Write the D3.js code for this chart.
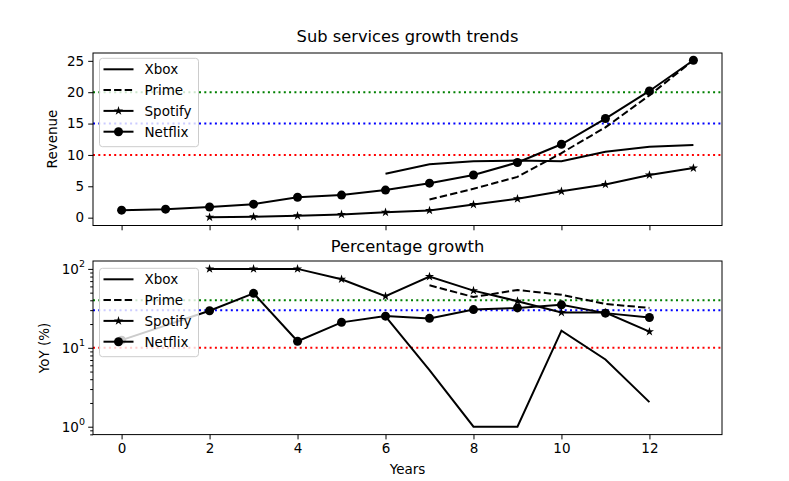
<!DOCTYPE html>
<html>
<head>
<meta charset="utf-8">
<script src="https://cdn.jsdelivr.net/npm/d3@7/dist/d3.min.js"></script>
<style>
  body { margin: 0; background: #fff; }
  text { font-family: "DejaVu Sans", sans-serif; fill: #000; }
</style>
</head>
<body>
<svg class="chart" width="789" height="481"></svg>
<script>
// revenue series (top panel)
var xboxYears = [6, 7, 8, 9, 10, 11, 12, 13];
var xbox = [7.0, 8.5, 9.0, 9.1, 9.0, 10.5, 11.3, 11.6];
var primeYears = [7, 8, 9, 10, 11, 12, 13];
var prime = [2.9, 4.6, 6.5, 10.3, 14.4, 19.5, 25.1];
var spotifyYears = [2, 3, 4, 5, 6, 7, 8, 9, 10, 11, 12, 13];
var spotify = [0.06, 0.14, 0.3, 0.52, 0.85, 1.15, 2.1, 3.0, 4.2, 5.3, 6.8, 7.9];
var netflixYears = [0, 1, 2, 3, 4, 5, 6, 7, 8, 9, 10, 11, 12, 13];
var netflix = [1.2, 1.35, 1.7, 2.15, 3.25, 3.6, 4.4, 5.5, 6.8, 8.8, 11.7, 15.8, 20.2, 25.1];

// YoY growth series (bottom panel)
var xboxYoYYears = [6, 7, 8, 9, 10, 11, 12];
var xboxYoY = [25, 5.2, 1, 1, 16.5, 7.1, 2.05];
var primeYoYYears = [7, 8, 9, 10, 11, 12];
var primeYoY = [62, 44, 54, 47, 36, 32];
var spotifyYoYYears = [2, 3, 4, 5, 6, 7, 8, 9, 10, 11, 12];
var spotifyYoY = [100, 100, 100, 74, 45, 80, 53, 39, 28, 28, 16];
var netflixYoYYears = [0, 2, 3, 4, 5, 6, 7, 8, 9, 10, 11, 12];
var netflixYoY = [12.5, 29.5, 49, 12.1, 21, 25.2, 23.6, 30.5, 32, 35, 27.5, 24.2];

var revenueRefs = [{v: 10, c: "#ff0000"}, {v: 15, c: "#0000ff"}, {v: 20, c: "#008000"}];
var yoyRefs = [{v: 10, c: "#ff0000"}, {v: 30, c: "#0000ff"}, {v: 40, c: "#008000"}];
var xTicks = [0, 2, 4, 6, 8, 10, 12];
var revenueTicks = [0, 5, 10, 15, 20, 25];
var legendNames = ["Xbox", "Prime", "Spotify", "Netflix"];

var svg = d3.select("svg.chart");
var left = 93, right = 722;
var starSize = 26;

var x = d3.scaleLinear().domain([-0.65, 13.65]).range([left, right]);
var yTop = d3.scaleLinear().domain([-1.25, 26.25]).range([225.5, 53]);
var yBot = d3.scaleLog().domain([Math.pow(10, -0.1), Math.pow(10, 2.1)]).range([434.6, 261]);

function zip(xs, ys) {
  return xs.map(function(d, i) { return {x: d, y: ys[i]}; });
}

function drawPanel(y, top, bottom, series, refs) {
  var g = svg.append("g");
  // reference lines
  refs.forEach(function(r) {
    g.append("line")
      .attr("x1", left).attr("x2", right)
      .attr("y1", y(r.v)).attr("y2", y(r.v))
      .attr("stroke", r.c).attr("stroke-width", 2)
      .attr("stroke-dasharray", "2,3.3");
  });
  var line = d3.line()
    .x(function(d) { return x(d.x); })
    .y(function(d) { return y(d.y); });
  series.forEach(function(s) {
    g.append("path")
      .datum(s.data)
      .attr("fill", "none")
      .attr("stroke", "#000")
      .attr("stroke-width", 2)
      .attr("stroke-dasharray", s.dash ? "7.4,3.2" : null)
      .attr("d", line);
    if (s.marker == "o") {
      g.selectAll(null).data(s.data).enter().append("circle")
        .attr("cx", function(d) { return x(d.x); })
        .attr("cy", function(d) { return y(d.y); })
        .attr("r", 4.5);
    } else if (s.marker == "*") {
      g.selectAll(null).data(s.data).enter().append("path")
        .attr("d", d3.symbol().type(d3.symbolStar).size(starSize))
        .attr("transform", function(d) { return "translate(" + x(d.x) + "," + y(d.y) + ")"; });
    }
  });
  // frame
  g.append("rect")
    .attr("x", left).attr("y", top)
    .attr("width", right - left).attr("height", bottom - top)
    .attr("fill", "none").attr("stroke", "#000").attr("stroke-width", 1);
  return g;
}

function drawLegend(x0, y0) {
  var lg = svg.append("g").attr("transform", "translate(" + x0 + "," + y0 + ")");
  lg.append("rect")
    .attr("x", 0).attr("y", 0).attr("width", 99).attr("height", 88.4)
    .attr("rx", 3)
    .attr("fill", "#fff").attr("fill-opacity", 0.8)
    .attr("stroke", "#cccccc").attr("stroke-width", 1);
  legendNames.forEach(function(name, i) {
    var yy = 11 + i * 20.8;
    lg.append("line")
      .attr("x1", 4).attr("x2", 34).attr("y1", yy).attr("y2", yy)
      .attr("stroke", "#000").attr("stroke-width", 2)
      .attr("stroke-dasharray", i == 1 ? "7.4,3.2" : null);
    if (i == 2) {
      lg.append("path")
        .attr("d", d3.symbol().type(d3.symbolStar).size(starSize))
        .attr("transform", "translate(19," + yy + ")");
    }
    if (i == 3) {
      lg.append("circle").attr("cx", 19).attr("cy", yy).attr("r", 4.5);
    }
    lg.append("text")
      .attr("x", 45).attr("y", yy + 5)
      .style("font-size", "13.5px")
      .text(name);
  });
}

// top panel
drawPanel(yTop, 53, 225.5, [
  {data: zip(xboxYears, xbox)},
  {data: zip(primeYears, prime), dash: true},
  {data: zip(spotifyYears, spotify), marker: "*"},
  {data: zip(netflixYears, netflix), marker: "o"}
], revenueRefs);

var axTop = svg.append("g").attr("transform", "translate(0,225.5)")
  .call(d3.axisBottom(x).tickValues(xTicks).tickSize(4.8).tickFormat(""));
axTop.select(".domain").remove();
var ayTop = svg.append("g").attr("transform", "translate(" + left + ",0)")
  .call(d3.axisLeft(yTop).tickValues(revenueTicks).tickSize(4.8).tickPadding(4));
ayTop.select(".domain").remove();
ayTop.selectAll("text").style("font-size", "13.5px").style("font-family", "DejaVu Sans");

drawLegend(99.5, 58.3);

// bottom panel
drawPanel(yBot, 261, 434.6, [
  {data: zip(xboxYoYYears, xboxYoY)},
  {data: zip(primeYoYYears, primeYoY), dash: true},
  {data: zip(spotifyYoYYears, spotifyYoY), marker: "*"},
  {data: zip(netflixYoYYears, netflixYoY), marker: "o"}
], yoyRefs);

var axBot = svg.append("g").attr("transform", "translate(0,434.6)")
  .call(d3.axisBottom(x).tickValues(xTicks).tickSize(4.8).tickPadding(4));
axBot.select(".domain").remove();
axBot.selectAll("text").style("font-size", "13.5px").style("font-family", "DejaVu Sans");

// log y axis: minor ticks then decade labels
var minor = yBot.ticks().filter(function(v) {
  var lg = Math.log10(v);
  return Math.abs(lg - Math.round(lg)) > 1e-6;
});
var ayBotMinor = svg.append("g").attr("transform", "translate(" + left + ",0)")
  .call(d3.axisLeft(yBot).tickValues(minor).tickSize(2.8).tickFormat(""));
ayBotMinor.select(".domain").remove();
var ayBot = svg.append("g").attr("transform", "translate(" + left + ",0)")
  .call(d3.axisLeft(yBot).tickValues([1, 10, 100]).tickSize(4.8).tickFormat(""));
ayBot.select(".domain").remove();
ayBot.selectAll(".tick").each(function(d) {
  var t = d3.select(this).append("text")
    .attr("x", -8).attr("y", 5)
    .attr("text-anchor", "end")
    .style("font-size", "13.5px");
  t.append("tspan").text("10");
  t.append("tspan").attr("dy", -7).style("font-size", "9.5px").text(Math.round(Math.log10(d)));
});

drawLegend(99.5, 268.3);

// titles and labels
svg.append("text").attr("x", 407.5).attr("y", 42).attr("text-anchor", "middle")
  .style("font-size", "16.3px").text("Sub services growth trends");
svg.append("text").attr("x", 407.5).attr("y", 252).attr("text-anchor", "middle")
  .style("font-size", "16.3px").text("Percentage growth");
svg.append("text").attr("x", 407.5).attr("y", 474).attr("text-anchor", "middle")
  .style("font-size", "13.5px").text("Years");
svg.append("text").attr("transform", "translate(57,139) rotate(-90)").attr("text-anchor", "middle")
  .style("font-size", "13.5px").text("Revenue");
svg.append("text").attr("transform", "translate(49,348) rotate(-90)").attr("text-anchor", "middle")
  .style("font-size", "13.5px").text("YoY (%)");
</script>
</body>
</html>
